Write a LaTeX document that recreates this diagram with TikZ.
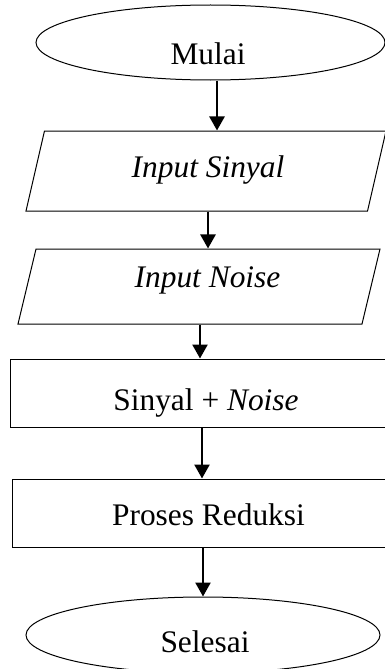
\documentclass[tikz,border=0pt]{standalone}
\usepackage{fontspec}
\setmainfont{Liberation Serif}
\usetikzlibrary{shapes.geometric,arrows.meta}

\begin{document}
\begin{tikzpicture}[x=1pt, y=-1pt,
    every node/.style={font=\fontsize{31.4}{36}\selectfont},
    terminal/.style={draw, line width=1pt, ellipse, inner sep=0pt},
    io/.style={draw, line width=1pt, trapezium, trapezium stretches body,
      trapezium left angle=77, trapezium right angle=103, inner xsep=2pt},
    process/.style={draw, line width=1pt, rectangle, inner sep=0pt},
    txt/.style={anchor=base, inner sep=0pt},
    arrow/.style={-{Triangle[width=15pt,length=14pt]}, line width=2.5pt}]
  \useasboundingbox (0,0) rectangle (385,669);

  % shapes of the flow
  \node[terminal, minimum width=349pt, minimum height=75pt] (mulai) at (210.5,42.5) {};
  \node[io, inner ysep=40pt, minimum width=360pt] (sinyal) at (206,171) {};
  \node[io, trapezium left angle=76.5, trapezium right angle=103.5,
    inner ysep=37.5pt, minimum width=362pt] (noise) at (199,286.5) {};
  \node[process, minimum width=392pt, minimum height=68pt] (tambah) at (206,393) {};
  \node[process, minimum width=392pt, minimum height=68pt] (reduksi) at (208,513) {};
  \node[terminal, minimum width=354pt, minimum height=76pt] (selesai) at (203,635) {};

  % texts
  \node[txt] (t-mulai) at (208,65) {Mulai};
  \node[txt] (t-sinyal) at (208,177) {\textit{Input Sinyal}};
  \node[txt] (t-noise) at (207.5,287) {\textit{Input Noise}};
  \node[txt] (t-tambah) at (206,410) {Sinyal + \textit{Noise}};
  \node[txt] (t-reduksi) at (208.5,525) {Proses Reduksi};
  \node[txt] (t-selesai) at (205,652) {Selesai};

  % arrows
  \draw[arrow] (mulai.south -| 217,0) -- (sinyal.north -| 217,0);
  \draw[arrow] (sinyal.south -| 208,0) -- (noise.north -| 208,0);
  \draw[arrow] (noise.south -| 200,0) -- (tambah.north -| 200,0);
  \draw[arrow] (tambah.south -| 202,0) -- (reduksi.north -| 202,0);
  \draw[arrow] (reduksi.south -| 203,0) -- (selesai.north -| 203,0);
\end{tikzpicture}
\end{document}
